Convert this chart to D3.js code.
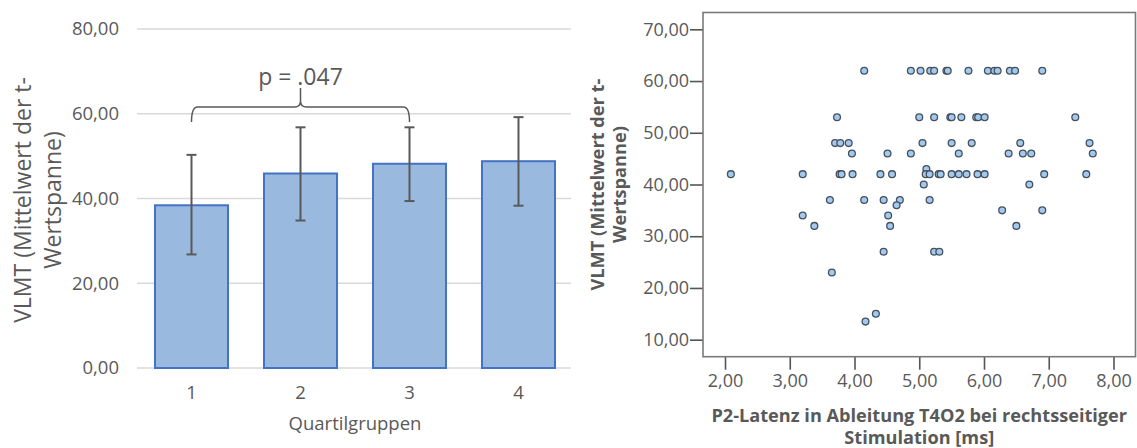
<!DOCTYPE html>
<html>
<head>
<meta charset="utf-8">
<script src="https://cdn.jsdelivr.net/npm/d3@7"></script>
<style>
  html, body { margin: 0; padding: 0; background: #fff; }
  svg { display: block; font-family: "Open Sans", sans-serif; }
</style>
</head>
<body>
<div id="wrapper"></div>
<script>
// ---- data ----
// left: bar chart with error bars
const quartiles = ["1", "2", "3", "4"]
const vlmtMeans = [38.4, 45.9, 48.2, 48.8]
const errLower = [26.8, 34.8, 39.4, 38.3]
const errUpper = [50.3, 56.8, 56.8, 59.2]
const barTicks = [0, 20, 40, 60, 80]
const pLabel = "p = .047"
const bracketPair = ["1", "3"]

// right: scatter, P2 latency (x) vs VLMT (y)
const latency = [
  4.15, 4.87, 5.02, 5.17, 5.23, 5.42, 5.44, 5.76, 6.06, 6.16, 6.21, 6.40, 6.48, 6.90,
  3.73, 5.00, 5.23, 5.48, 5.50, 5.65, 5.88, 5.91, 6.01, 7.41,
  3.70, 3.78, 3.91, 5.05, 5.50, 5.81, 6.56, 7.63,
  3.96, 4.51, 4.87, 5.61, 6.38, 6.60, 6.73, 7.68,
  5.11,
  2.09, 3.20, 3.77, 3.80, 3.97, 4.40, 4.58, 5.10, 5.16, 5.30, 5.33, 5.50, 5.61, 5.73, 5.90, 6.01, 6.93, 7.58,
  5.07, 6.70,
  3.62, 4.15, 4.45, 4.70, 5.16,
  4.65,
  6.28, 6.90,
  3.20, 4.52,
  3.38, 4.55, 6.50,
  4.45, 5.23, 5.31,
  3.65,
  4.33,
  4.17
]
const vlmt = [
  62, 62, 62, 62, 62, 62, 62, 62, 62, 62, 62, 62, 62, 62,
  53, 53, 53, 53, 53, 53, 53, 53, 53, 53,
  48, 48, 48, 48, 48, 48, 48, 48,
  46, 46, 46, 46, 46, 46, 46, 46,
  43,
  42, 42, 42, 42, 42, 42, 42, 42, 42, 42, 42, 42, 42, 42, 42, 42, 42, 42,
  40, 40,
  37, 37, 37, 37, 37,
  36,
  35, 35,
  34, 34,
  32, 32, 32,
  27, 27, 27,
  23,
  15,
  13.5
]
const scatterXTicks = [2, 3, 4, 5, 6, 7, 8]
const scatterYTicks = [10, 20, 30, 40, 50, 60, 70]

const textColor = "#595959"
const commaFormat = v => d3.format(".2f")(v).replace(".", ",")

// scale a group of text lines so its first line gets a given length
function fitLines(selection, target) {
  const first = selection.node()
  const size = +first.getAttribute("font-size")
  const len = first.getComputedTextLength()
  selection.attr("font-size", size * target / len)
}

const svg = d3.select("#wrapper")
  .append("svg")
  .attr("width", 1137)
  .attr("height", 448)

// ================= left chart =================
const bar = {left: 137, right: 573, top: 29, bottom: 368}

const xBand = d3.scaleBand()
  .domain(quartiles)
  .range([bar.left, bar.right])
  .paddingInner(0.33)
  .paddingOuter(0.165)

const yBar = d3.scaleLinear()
  .domain([0, 80])
  .range([bar.bottom, bar.top])

const left = svg.append("g")

// gridlines
left.selectAll(".grid")
  .data(barTicks)
  .enter().append("line")
  .attr("x1", bar.left)
  .attr("x2", bar.right - 2)
  .attr("y1", d => yBar(d))
  .attr("y2", d => yBar(d))
  .attr("stroke", "#d9d9d9")
  .attr("stroke-width", 1.5)

// y tick labels
left.selectAll(".ytick")
  .data(barTicks)
  .enter().append("text")
  .attr("x", 119)
  .attr("y", d => yBar(d))
  .attr("dy", "0.35em")
  .attr("text-anchor", "end")
  .attr("font-size", 18.5)
  .attr("fill", textColor)
  .text(commaFormat)

// bars
left.selectAll(".bar")
  .data(quartiles)
  .enter().append("rect")
  .attr("x", d => xBand(d))
  .attr("width", xBand.bandwidth())
  .attr("y", (d, i) => yBar(vlmtMeans[i]))
  .attr("height", (d, i) => yBar(0) - yBar(vlmtMeans[i]))
  .attr("fill", "#99b9df")
  .attr("stroke", "#4472c4")
  .attr("stroke-width", 2)

// error bars
const errG = left.selectAll(".err")
  .data(quartiles)
  .enter().append("g")
  .attr("stroke", "#595959")
  .attr("stroke-width", 2)
const cx = d => xBand(d) + xBand.bandwidth() / 2
errG.append("line")
  .attr("x1", cx).attr("x2", cx)
  .attr("y1", (d, i) => yBar(errLower[i]))
  .attr("y2", (d, i) => yBar(errUpper[i]))
errG.append("line")
  .attr("x1", d => cx(d) - 5).attr("x2", d => cx(d) + 5)
  .attr("y1", (d, i) => yBar(errUpper[i]))
  .attr("y2", (d, i) => yBar(errUpper[i]))
errG.append("line")
  .attr("x1", d => cx(d) - 5).attr("x2", d => cx(d) + 5)
  .attr("y1", (d, i) => yBar(errLower[i]))
  .attr("y2", (d, i) => yBar(errLower[i]))

// x tick labels
left.selectAll(".xtick")
  .data(quartiles)
  .enter().append("text")
  .attr("x", cx)
  .attr("y", 399)
  .attr("text-anchor", "middle")
  .attr("font-size", 18.5)
  .attr("fill", textColor)
  .text(d => d)

left.append("text")
  .attr("x", (bar.left + bar.right) / 2)
  .attr("y", 430)
  .attr("text-anchor", "middle")
  .attr("font-size", 18.5)
  .attr("fill", textColor)
  .text("Quartilgruppen")

// y title, two lines
const leftTitle = ["VLMT (Mittelwert der t-", "Wertspanne)"]
left.selectAll(".ytitle")
  .data(leftTitle)
  .enter().append("text")
  .attr("transform", (d, i) => `translate(${22 + i * 30}, 200) rotate(-90)`)
  .attr("text-anchor", "middle")
  .attr("dominant-baseline", "central")
  .attr("font-size", 23)
  .attr("fill", textColor)
  .text(d => d)

// significance brace between groups 1 and 3
const bx1 = cx(bracketPair[0])
const bx2 = cx(bracketPair[1])
const bmid = (bx1 + bx2) / 2
const bLine = 107, bFoot = 122, bTip = 88, r = 6
const brace = d3.path()
brace.moveTo(bx1, bFoot)
brace.quadraticCurveTo(bx1, bLine, bx1 + r, bLine)
brace.lineTo(bmid - r, bLine)
brace.quadraticCurveTo(bmid, bLine, bmid, bLine - r)
brace.lineTo(bmid, bTip)
brace.moveTo(bmid, bLine - r)
brace.quadraticCurveTo(bmid, bLine, bmid + r, bLine)
brace.lineTo(bx2 - r, bLine)
brace.quadraticCurveTo(bx2, bLine, bx2, bFoot)
left.append("path")
  .attr("d", brace.toString())
  .attr("fill", "none")
  .attr("stroke", "#595959")
  .attr("stroke-width", 1.5)

left.append("text")
  .attr("x", bmid)
  .attr("y", 85)
  .attr("text-anchor", "middle")
  .attr("font-size", 23)
  .attr("fill", textColor)
  .text(pLabel)

// ================= right chart =================
const sc = {left: 703, right: 1135.5, top: 12.5, bottom: 356.7}

const xScatter = d3.scaleLinear()
  .domain([1.66, 8.34])
  .range([sc.left, sc.right])
const yScatter = d3.scaleLinear()
  .domain([6.71, 73.25])
  .range([sc.bottom, sc.top])

const right = svg.append("g")

const yAxis = d3.axisLeft(yScatter)
  .tickValues(scatterYTicks)
  .tickSize(13)
  .tickPadding(1)
  .tickFormat(commaFormat)
const xAxis = d3.axisBottom(xScatter)
  .tickValues(scatterXTicks)
  .tickSize(13)
  .tickPadding(5)
  .tickFormat(commaFormat)

const yAxisG = right.append("g")
  .attr("transform", `translate(${sc.left}, 0)`)
  .call(yAxis)
const xAxisG = right.append("g")
  .attr("transform", `translate(0, ${sc.bottom})`)
  .call(xAxis)
;[yAxisG, xAxisG].forEach(g => {
  g.select(".domain").remove()
  g.selectAll(".tick line").attr("stroke", "#555").attr("stroke-width", 1.6)
  g.selectAll(".tick text")
    .attr("font-size", 18)
    .attr("font-family", "Open Sans")
    .attr("fill", textColor)
})

right.append("rect")
  .attr("x", sc.left)
  .attr("y", sc.top)
  .attr("width", sc.right - sc.left)
  .attr("height", sc.bottom - sc.top)
  .attr("fill", "none")
  .attr("stroke", "#7a7a7a")
  .attr("stroke-width", 1.6)

right.selectAll(".dot")
  .data(latency)
  .enter().append("circle")
  .attr("cx", d => xScatter(d))
  .attr("cy", (d, i) => yScatter(vlmt[i]))
  .attr("r", 3.4)
  .attr("fill", "#a3caee")
  .attr("stroke", "#44505c")
  .attr("stroke-width", 1.3)

const xTitle = ["P2-Latenz in Ableitung T4O2 bei rechtsseitiger", "Stimulation [ms]"]
const xTitleText = right.selectAll(".xtitle")
  .data(xTitle)
  .enter().append("text")
  .attr("x", (sc.left + sc.right) / 2)
  .attr("y", (d, i) => 422 + i * 22)
  .attr("text-anchor", "middle")
  .attr("font-size", 16)
  .attr("font-weight", "bold")
  .attr("fill", textColor)
  .text(d => d)
fitLines(xTitleText, 416)

const yTitle = ["VLMT (Mittelwert der t-", "Wertspanne)"]
const yTitleText = right.selectAll(".ytitle")
  .data(yTitle)
  .enter().append("text")
  .attr("transform", (d, i) =>
    `translate(${597 + i * 22}, ${(sc.top + sc.bottom) / 2}) rotate(-90)`)
  .attr("text-anchor", "middle")
  .attr("dominant-baseline", "central")
  .attr("font-size", 16)
  .attr("font-weight", "bold")
  .attr("fill", textColor)
  .text(d => d)
fitLines(yTitleText, 212)
</script>
</body>
</html>
